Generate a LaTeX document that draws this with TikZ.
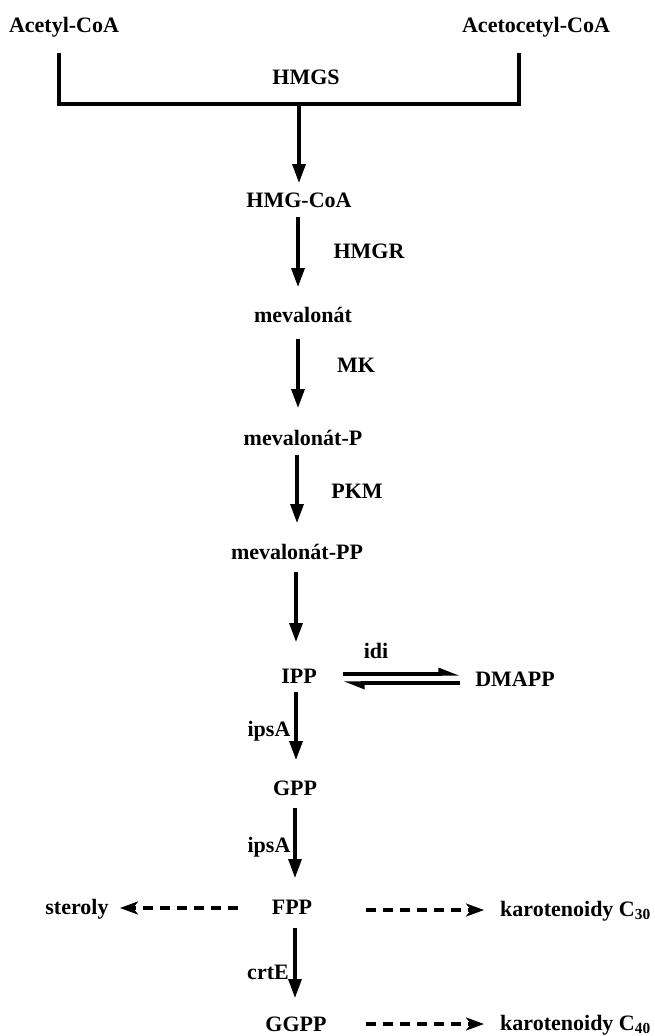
\documentclass[tikz,border=0pt]{standalone}
\usepackage{fontspec}
\setmainfont{Liberation Serif}
\usetikzlibrary{arrows.meta,calc}
\begin{document}
\begin{tikzpicture}[x=1pt,y=1pt,
  lbl/.style={anchor=base,inner sep=0pt,font=\fontsize{22}{26}\selectfont\bfseries},
  lblw/.style={anchor=base west,inner sep=0pt,font=\fontsize{22}{26}\selectfont\bfseries},
  line/.style={line width=3.3pt},
  arr/.style={line width=3.3pt,-{Triangle[length=19pt,width=13pt]}},
  darr/.style={line width=3.3pt,dash pattern=on 10pt off 7pt,-{Stealth[length=18pt,width=13pt,inset=5pt]}},
  harp/.style={line width=3.3pt,-{Triangle[harpoon,length=17pt,width=12pt]}}]
\useasboundingbox (0,0) rectangle (654,-1036);
\fill[white] (0,0) rectangle (654,-1036);
% nodes
\node[lbl] (acetyl) at (64,-32) {Acetyl-CoA};
\node[lbl] (acetocetyl) at (536,-32) {Acetocetyl-CoA};
\node[lbl] (hmgs) at (306,-84) {HMGS};
\node[lbl] (hmgcoa) at (299,-207) {HMG-CoA};
\node[lbl] (hmgr) at (369,-258) {HMGR};
\node[lbl] (meva) at (303,-322) {mevalonát};
\node[lbl] (mk) at (356,-372) {MK};
\node[lbl] (mevap) at (303,-445) {mevalonát-P};
\node[lbl] (pkm) at (357,-498) {PKM};
\node[lbl] (mevapp) at (297,-559) {mevalonát-PP};
\node[lbl] (ipp) at (299,-683) {IPP};
\node[lbl] (idi) at (376,-658) {idi};
\node[lbl] (dmapp) at (515,-686) {DMAPP};
\node[lbl] (ipsa1) at (269,-736) {ipsA};
\node[lbl] (gpp) at (295,-795) {GPP};
\node[lbl] (ipsa2) at (269,-852) {ipsA};
\node[lbl] (fpp) at (292,-914) {FPP};
\node[lbl] (steroly) at (77,-914) {steroly};
\node[lbl] (crte) at (268,-979) {crtE};
\node[lbl] (ggpp) at (296,-1031) {GGPP};
\node[lblw] (k30) at (500,-916) {karotenoidy C\textsubscript{30}};
\node[lblw] (k40) at (500,-1030) {karotenoidy C\textsubscript{40}};
% bracket
\draw[line] ($(acetyl.base)+(-5,-21)$) |- ($(acetocetyl.base)+(-17,-72)$) -- ($(acetocetyl.base)+(-17,-21)$);
\coordinate (j) at ($(hmgcoa.base)+(0,103)$);
\draw[arr] (j) -- ($(hmgcoa.base)+(0,24)$);
% main chain
\draw[arr] ($(hmgcoa.base)+(-1,-10)$) -- ($(meva.base)+(-5,35)$);
\draw[arr] ($(meva.base)+(-5,-17)$) -- ($(mevap.base)+(-5,37)$);
\draw[arr] ($(mevap.base)+(-6,-10)$) -- ($(mevapp.base)+(0,36)$);
\draw[arr] ($(mevapp.base)+(-1,-13)$) -- ($(ipp.base)+(-3,41)$);
\draw[arr] ($(ipp.base)+(-3,-9)$) -- ($(gpp.base)+(1,35)$);
\draw[arr] ($(gpp.base)+(0,-13)$) -- ($(fpp.base)+(3,36)$);
\draw[arr] ($(fpp.base)+(3,-14)$) -- ($(ggpp.base)+(-1,33)$);
% equilibrium
\draw[harp] ($(ipp.base)+(44,9)$) -- ($(dmapp.base)+(-55,12)$);
\draw[harp] ($(dmapp.base)+(-55,3)$) -- ($(ipp.base)+(44,0)$);
% dashed branches
\draw[darr] ($(fpp.base)+(-54,6)$) -- ($(steroly.base)+(43,6)$);
\draw[darr] ($(fpp.base)+(74,4)$) -- ($(k30.base west)+(-16,6)$);
\draw[darr] ($(ggpp.base)+(70,7)$) -- ($(k40.base west)+(-16,6)$);
\end{tikzpicture}
\end{document}
